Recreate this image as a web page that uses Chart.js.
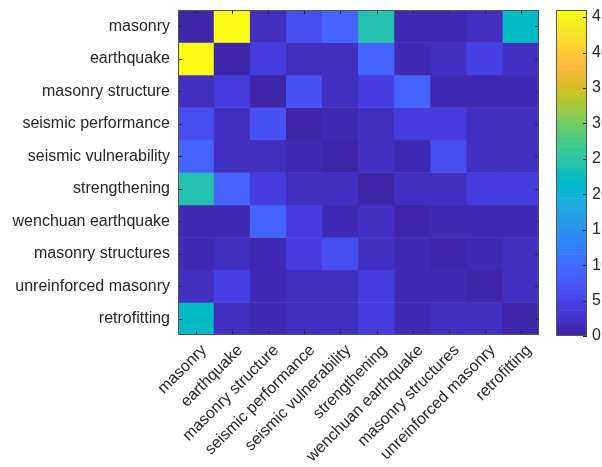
<!DOCTYPE html>
<html>
<head>
<meta charset="utf-8">
<script src="https://cdn.jsdelivr.net/npm/chart.js@4/dist/chart.umd.min.js"></script>
<style>
  body { margin: 0; background: #fff; }
  #wrap { position: relative; width: 602px; height: 467px; overflow: hidden; }
  #heat { position: absolute; left: 0; top: 0; }
  #bar { position: absolute; left: 500px; top: 0; }
</style>
</head>
<body>
<div id="wrap">
  <canvas id="heat" width="602" height="467"></canvas>
  <canvas id="bar" width="102" height="467"></canvas>
</div>
<script>
// keywords, same order on both axes
const keywords = ['masonry', 'earthquake', 'masonry structure', 'seismic performance',
  'seismic vulnerability', 'strengthening', 'wenchuan earthquake', 'masonry structures',
  'unreinforced masonry', 'retrofitting'];

// co-occurrence counts, one row per keyword
const counts = [
  [0, 46, 2, 6, 9, 24, 1, 1, 2, 22],
  [46, 0, 4, 2, 2, 9, 1, 2, 5, 2],
  [2, 4, 0, 7, 2, 4, 9, 1, 1, 1],
  [6, 2, 7, 0, 1, 2, 4, 4, 2, 2],
  [9, 2, 2, 1, 0, 2, 1, 6, 2, 2],
  [24, 9, 4, 2, 2, 0, 2, 2, 4, 4],
  [1, 1, 9, 4, 1, 2, 0, 1, 1, 1],
  [1, 2, 1, 4, 6, 2, 1, 0, 1, 2],
  [2, 5, 1, 2, 2, 4, 1, 1, 0, 2],
  [22, 2, 1, 2, 2, 4, 1, 2, 2, 0]
];

const colorMax = 46;
const colorTicks = [0, 5, 10, 15, 20, 25, 30, 35, 40, 45];

// matlab parula, 64 steps
const parula = [
  [0.2422,0.1504,0.6603],[0.2504,0.1650,0.7076],[0.2578,0.1818,0.7511],[0.2647,0.1978,0.7952],
  [0.2706,0.2147,0.8364],[0.2751,0.2342,0.8710],[0.2783,0.2559,0.8991],[0.2803,0.2782,0.9221],
  [0.2813,0.3006,0.9414],[0.2810,0.3228,0.9579],[0.2795,0.3447,0.9717],[0.2760,0.3667,0.9829],
  [0.2699,0.3892,0.9906],[0.2602,0.4123,0.9952],[0.2440,0.4358,0.9988],[0.2206,0.4603,0.9973],
  [0.1963,0.4847,0.9892],[0.1834,0.5074,0.9798],[0.1786,0.5289,0.9682],[0.1764,0.5499,0.9520],
  [0.1687,0.5703,0.9359],[0.1540,0.5902,0.9218],[0.1460,0.6091,0.9079],[0.1380,0.6276,0.8973],
  [0.1248,0.6459,0.8883],[0.1113,0.6635,0.8763],[0.0952,0.6798,0.8598],[0.0689,0.6948,0.8394],
  [0.0297,0.7082,0.8163],[0.0036,0.7203,0.7917],[0.0067,0.7312,0.7660],[0.0433,0.7411,0.7394],
  [0.0964,0.7500,0.7120],[0.1408,0.7584,0.6842],[0.1717,0.7670,0.6554],[0.1938,0.7758,0.6251],
  [0.2161,0.7843,0.5923],[0.2470,0.7918,0.5567],[0.2906,0.7973,0.5188],[0.3406,0.8008,0.4789],
  [0.3909,0.8029,0.4354],[0.4456,0.8024,0.3909],[0.5044,0.7993,0.3480],[0.5616,0.7942,0.3045],
  [0.6174,0.7876,0.2612],[0.6720,0.7793,0.2227],[0.7242,0.7698,0.1910],[0.7738,0.7598,0.1646],
  [0.8203,0.7498,0.1535],[0.8634,0.7406,0.1596],[0.9035,0.7330,0.1774],[0.9393,0.7288,0.2100],
  [0.9728,0.7298,0.2394],[0.9956,0.7434,0.2371],[0.9970,0.7659,0.2199],[0.9952,0.7893,0.2028],
  [0.9892,0.8136,0.1885],[0.9786,0.8386,0.1766],[0.9676,0.8639,0.1643],[0.9610,0.8890,0.1537],
  [0.9597,0.9135,0.1423],[0.9628,0.9373,0.1265],[0.9691,0.9606,0.1064],[0.9769,0.9839,0.0805]
];

function rgb(c) {
  return 'rgb(' + c.map(v => Math.round(v * 255)).join(',') + ')';
}
function colorFor(v) {
  let k = Math.floor(v / colorMax * parula.length);
  if (k > parula.length - 1) k = parula.length - 1;
  if (k < 0) k = 0;
  return rgb(parula[k]);
}

const font = { family: "'Liberation Sans', Arial, Helvetica, sans-serif", size: 16 };
const ink = '#262626';

// axis size fixed, no extra label padding
function fixBox(w, h) {
  return function (s) {
    if (w != null) s.width = w;
    if (h != null) s.height = h;
    s.paddingTop = 0; s.paddingBottom = 0; s.paddingLeft = 0; s.paddingRight = 0;
  };
}

// inward ticks + box like matlab axes
const axesBox = {
  id: 'axesBox',
  afterDatasetsDraw(chart, args, opts) {
    const ctx = chart.ctx, a = chart.chartArea;
    ctx.save();
    ctx.strokeStyle = ink;
    ctx.lineWidth = 1;
    ctx.beginPath();
    if (opts.heat) {
      const xs = chart.scales.x, ys = chart.scales.y;
      keywords.forEach((k, i) => {
        const px = Math.round(xs.getPixelForValue(i)) + 0.5;
        ctx.moveTo(px, a.bottom); ctx.lineTo(px, a.bottom - 4);
        ctx.moveTo(px, a.top); ctx.lineTo(px, a.top + 4);
        const py = Math.round(ys.getPixelForValue(i)) + 0.5;
        ctx.moveTo(a.left, py); ctx.lineTo(a.left + 4, py);
        ctx.moveTo(a.right, py); ctx.lineTo(a.right - 4, py);
      });
    } else {
      const ys = chart.scales.y;
      colorTicks.forEach(t => {
        const py = Math.round(ys.getPixelForValue(t)) + 0.5;
        ctx.moveTo(a.right, py); ctx.lineTo(a.right - 4, py);
      });
    }
    ctx.stroke();
    ctx.strokeStyle = '#555';
    ctx.strokeRect(Math.round(a.left) + 0.5, Math.round(a.top) + 0.5,
      Math.round(a.width) - 1, Math.round(a.height) - 1);
    ctx.restore();
  }
};

// one dataset per row, each cell a floating bar [row-0.5, row+0.5]
const heatSets = counts.map((row, r) => ({
  label: keywords[r],
  data: row.map(() => [r - 0.5, r + 0.5]),
  backgroundColor: row.map(colorFor),
  borderWidth: 0,
  barPercentage: 1,
  categoryPercentage: 1,
  grouped: false
}));

new Chart(document.getElementById('heat'), {
  type: 'bar',
  data: { labels: keywords, datasets: heatSets },
  plugins: [axesBox],
  options: {
    responsive: false,
    animation: false,
    layout: { padding: { top: 10, right: 63, left: 0, bottom: 0 } },
    plugins: { legend: { display: false }, tooltip: { enabled: false }, axesBox: { heat: true } },
    scales: {
      x: {
        grid: { display: false, drawTicks: false },
        border: { display: false },
        ticks: { font: font, color: ink, minRotation: 45, maxRotation: 45, autoSkip: false,
          padding: 6, labelOffset: 8 },
        afterFit: fixBox(null, 132)
      },
      y: {
        type: 'linear',
        reverse: true,
        min: -0.5,
        max: 9.5,
        grid: { display: false, drawTicks: false },
        border: { display: false },
        afterBuildTicks(s) { s.ticks = keywords.map((k, i) => ({ value: i })); },
        ticks: { font: font, color: ink, padding: 8, autoSkip: false,
          callback: v => keywords[v] },
        afterFit: fixBox(178, null)
      }
    }
  }
});

// colorbar: 64 stacked colour steps on a 0..46 scale
const barSets = parula.map((c, k) => ({
  data: [[k * colorMax / parula.length, (k + 1) * colorMax / parula.length]],
  backgroundColor: rgb(c),
  borderWidth: 0,
  barPercentage: 1,
  categoryPercentage: 1,
  grouped: false
}));

new Chart(document.getElementById('bar'), {
  type: 'bar',
  data: { labels: [''], datasets: barSets },
  plugins: [axesBox],
  options: {
    responsive: false,
    animation: false,
    layout: { padding: { top: 10, bottom: 131, left: 56, right: 0 } },
    plugins: { legend: { display: false }, tooltip: { enabled: false }, axesBox: { heat: false } },
    scales: {
      x: { display: false },
      y: {
        position: 'right',
        min: 0,
        max: colorMax,
        grid: { display: false, drawTicks: false },
        border: { display: false },
        afterBuildTicks(s) { s.ticks = colorTicks.map(v => ({ value: v })); },
        ticks: { font: font, color: ink, padding: 5 },
        afterFit: fixBox(15, null)
      }
    }
  }
});
</script>
</body>
</html>
